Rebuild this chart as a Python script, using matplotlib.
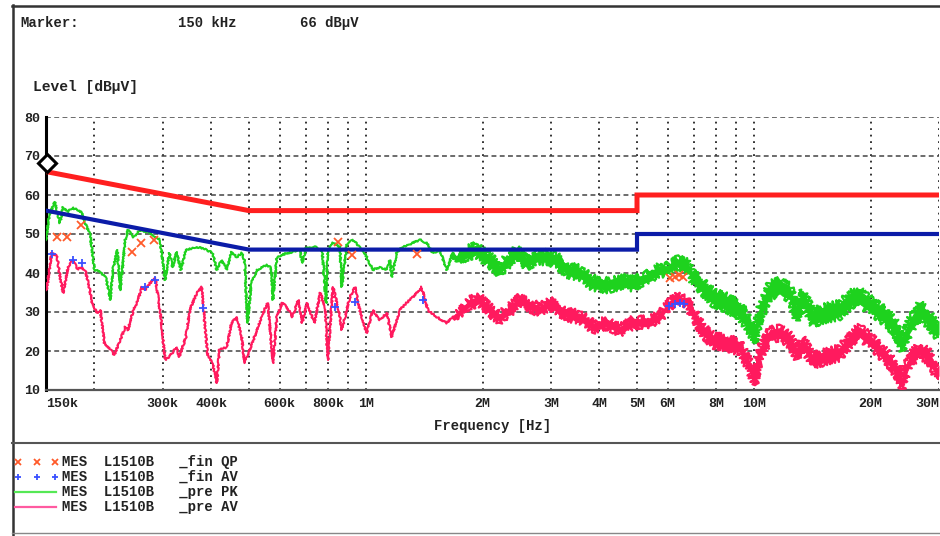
import matplotlib
matplotlib.use("Agg")
import matplotlib.pyplot as plt
import matplotlib.transforms as mtransforms
from matplotlib.lines import Line2D

# frequencies in MHz, levels in dBuV
lim_f = [0.15, 0.5, 5, 5, 30]
qp_lim = [66, 56, 56, 60, 60]
av_lim = [56, 46, 46, 50, 50]

pk_f = [0.150, 0.153, 0.158, 0.163, 0.166, 0.170, 0.175, 0.181, 0.186, 0.189,
        0.195, 0.200, 0.207, 0.214, 0.220, 0.223, 0.229, 0.233, 0.240, 0.244,
        0.252, 0.262, 0.278, 0.295, 0.304, 0.312, 0.318, 0.325, 0.334, 0.344,
        0.367, 0.390, 0.403, 0.413, 0.425, 0.438, 0.451, 0.465, 0.479, 0.487,
        0.496, 0.507, 0.525, 0.556, 0.570, 0.577, 0.590, 0.626, 0.656, 0.676,
        0.686, 0.702, 0.747, 0.773, 0.790, 0.798, 0.823, 0.858, 0.868, 0.893,
        0.926, 0.965, 1.006, 1.042, 1.087, 1.133, 1.153, 1.167, 1.201, 1.243,
        1.322, 1.378, 1.436, 1.488, 1.551, 1.617, 1.676, 1.747,
        1.820, 1.930, 2.001, 2.085, 2.211, 2.303, 2.446, 2.597, 2.758, 2.927,
        3.107, 3.297, 3.565, 3.856, 4.187, 4.526, 4.889, 5.293, 5.727, 5.97,
        6.33, 6.71, 6.96, 7.38, 7.83, 8.51, 9.20, 9.77, 10.06, 10.36,
        10.99, 11.66, 12.37, 12.89, 13.37, 14.18, 15.39, 16.62, 17.95, 18.72,
        20.22, 21.96, 23.30, 24.15, 25.18, 26.72, 28.35, 29.57, 30.0]
pk_lvl = [48.5, 54.9, 58.2, 52.8, 56.9, 55.6, 56.7, 56.2, 55.4, 52.8,
          49.7, 40.8, 40.3, 38.7, 33.1, 40.8, 45.9, 35.6, 48.5, 51.0,
          49.2, 51.0, 50.3, 48.5, 38.2, 45.1, 41.5, 45.4, 40.8, 45.9,
          46.7, 45.9, 45.1, 40.8, 43.3, 40.8, 45.4, 44.1, 45.1, 43.3,
          27.2, 37.4, 40.8, 42.1, 41.3, 33.1, 44.1, 45.1, 45.4, 45.9,
          42.6, 46.4, 46.7, 45.1, 32.3, 45.9, 47.7, 46.7, 36.4, 47.2,
          48.5, 46.7, 44.1, 40.8, 41.5, 40.8, 43.3, 39.0, 45.1, 46.7,
          47.7, 48.5, 47.7, 45.1, 45.9, 40.8, 45.1, 43.3,
          45.1, 45.9, 44.6, 43.3, 40.8, 42.8, 45.1, 42.8, 44.1, 44.1,
          43.3, 40.8, 40.0, 37.4, 36.9, 37.7, 37.4, 38.7, 40.8, 40.8,
          42.6, 42.1, 39.0, 36.4, 33.8, 32.3, 30.5, 26.2, 23.6, 29.7,
          35.6, 36.4, 34.9, 29.7, 33.8, 28.7, 29.7, 30.5, 33.6, 33.8,
          31.3, 28.7, 25.4, 22.0, 26.2, 30.5, 28.0, 25.4, 26.0]
pk_band = [0.0] * 77 + [
    0.6,
    1.3, 1.3, 1.3, 1.3, 1.3, 1.3, 1.3, 1.3, 1.3, 1.3,
    1.3, 1.3, 1.3, 1.3, 1.3, 1.3, 1.3, 1.1, 1.1, 1.1,
    1.1, 1.1, 1.3, 1.5, 1.7, 1.8, 1.8, 1.8, 1.8, 1.8,
    1.8, 1.8, 1.8, 1.8, 1.8, 1.8, 1.8, 1.8, 1.8, 1.8,
    1.8, 1.8, 1.8, 1.8, 1.8, 1.8, 1.8, 1.8, 1.8]

av_f = [0.150, 0.151, 0.155, 0.160, 0.163, 0.166, 0.171, 0.176, 0.181, 0.184,
        0.189, 0.193, 0.198, 0.204, 0.207, 0.212, 0.220, 0.225, 0.233, 0.240,
        0.244, 0.252, 0.259, 0.265, 0.270, 0.278, 0.287, 0.290, 0.297, 0.304,
        0.312, 0.325, 0.331, 0.344, 0.352, 0.367, 0.378, 0.386, 0.392, 0.403,
        0.413, 0.420, 0.438, 0.451, 0.465, 0.479, 0.487, 0.502, 0.525, 0.543,
        0.559, 0.577, 0.590, 0.609, 0.626, 0.647, 0.670, 0.686, 0.706, 0.737,
        0.763, 0.786, 0.798, 0.823, 0.848, 0.868, 0.910, 0.939, 0.965, 1.006,
        1.042, 1.087, 1.133, 1.167, 1.223, 1.273, 1.322, 1.393, 1.445, 1.524,
        1.617, 1.676, 1.747,
        1.852, 1.966, 2.085, 2.211, 2.347, 2.491, 2.643, 2.805, 2.977, 3.158,
        3.352, 3.565, 3.856, 4.187, 4.526, 4.889, 5.293, 5.727, 5.97, 6.33,
        6.71, 6.96, 7.38, 7.83, 8.51, 9.20, 9.77, 10.06, 10.36, 10.99,
        11.66, 12.37, 12.89, 13.37, 14.18, 15.39, 16.62, 17.95, 18.72, 20.22,
        21.96, 23.30, 24.15, 25.18, 26.72, 28.35, 29.57, 30.0]
av_lvl = [35.6, 36.4, 45.1, 44.4, 39.0, 34.9, 41.5, 43.3, 40.8, 41.5,
          40.8, 37.4, 31.3, 29.7, 30.5, 22.1, 20.3, 19.0, 22.8, 26.2,
          25.4, 30.5, 33.1, 36.4, 35.6, 37.4, 38.7, 35.6, 28.0, 17.7,
          18.5, 21.0, 18.5, 23.6, 30.5, 34.9, 36.4, 25.4, 18.5, 16.9,
          11.8, 20.3, 21.0, 27.2, 28.7, 23.6, 16.9, 20.3, 25.4, 29.7,
          32.3, 16.9, 28.7, 32.3, 31.3, 28.7, 33.1, 27.2, 32.3, 27.2,
          34.9, 31.3, 17.7, 36.4, 31.3, 25.4, 33.8, 36.4, 30.5, 24.6,
          30.5, 28.0, 29.7, 23.6, 30.5, 32.3, 33.8, 36.4, 30.5, 28.7,
          27.2, 28.7, 29.7,
          32.3, 33.1, 30.5, 28.5, 30.5, 33.1, 31.8, 30.5, 32.3, 30.5,
          29.2, 28.7, 26.2, 27.2, 25.4, 27.4, 27.2, 28.7, 31.3, 33.6,
          32.6, 29.7, 25.4, 22.8, 22.1, 21.0, 15.9, 12.6, 19.5, 24.1,
          24.6, 22.8, 19.5, 22.1, 17.7, 18.5, 19.5, 23.6, 24.9, 22.1,
          18.5, 15.1, 11.8, 17.7, 20.3, 18.5, 14.4, 15.0]
av_band = [0.0] * 82 + [
    0.5,
    1.0, 1.0, 1.0, 1.0, 1.0, 1.0, 1.0, 1.0, 1.0, 1.0,
    1.0, 1.0, 1.0, 1.0, 1.0, 1.0, 1.0, 0.8, 0.8, 0.8,
    0.8, 1.0, 1.2, 1.4, 1.4, 1.4, 1.4, 1.4, 1.4, 1.4,
    1.4, 1.4, 1.4, 1.4, 1.4, 1.4, 1.4, 1.4, 1.4, 1.4,
    1.4, 1.4, 1.4, 1.4, 1.4, 1.4, 1.4, 1.4]

qp_f = [0.160, 0.170, 0.185, 0.250, 0.264, 0.285, 0.848, 0.922, 1.356,
        6.09, 6.25, 6.40, 6.55]
qp_val = [49.2, 49.2, 52.3, 45.4, 47.7, 48.5, 48.0, 44.6, 45.0,
          38.6, 39.0, 39.4, 39.0]
avm_f = [0.155, 0.176, 0.186, 0.270, 0.287, 0.381, 0.834, 0.939, 1.405,
         6.05, 6.25, 6.45, 6.60]
avm_val = [45.0, 43.3, 42.6, 36.4, 38.2, 31.0, 31.3, 32.6, 33.0,
           31.6, 32.0, 32.3, 32.0]

marker_f = 0.15
marker_lvl = 66

xtick_vals = [0.15, 0.3, 0.4, 0.6, 0.8, 1, 2, 3, 4, 5, 6, 8, 10, 20, 30]
xtick_lbls = ["150k", "300k", "400k", "600k", "800k", "1M", "2M", "3M", "4M",
              "5M", "6M", "8M", "10M", "20M", "30M"]
grid_vals = [0.2, 0.3, 0.4, 0.5, 0.6, 0.7, 0.8, 0.9, 1, 2, 3, 4, 5, 6, 7, 8, 9,
             10, 20, 30]

legend_rows = ["MES  L1510B   _fin QP", "MES  L1510B   _fin AV",
               "MES  L1510B   _pre PK", "MES  L1510B   _pre AV"]

mono = "Liberation Mono"
W, H = 940, 536
fig = plt.figure(figsize=(W / 100, H / 100), dpi=100)
fig.patch.set_facecolor("white")

ax = fig.add_axes([46 / W, 1 - 390 / H, 893 / W, 273 / H])
ax.set_xscale("log")
ax.set_xlim(0.15, 30)
ax.set_ylim(10, 80)

green = "#1ed21e"
pink = "#ff1a5e"


def noisy_trace(f, lvl, spread, color, z):
    # thin line where the sweep is clean, jittered band where it is noisy
    c, = ax.plot(f, lvl, color=color, lw=1.5, zorder=z)
    c.set_sketch_params(scale=0.8, length=2, randomness=4)
    k = next(i for i, b in enumerate(spread) if b > 0)
    hf_f = f[k - 1:]
    lo = [v - b for v, b in zip(lvl[k - 1:], spread[k - 1:])]
    hi = [v + b for v, b in zip(lvl[k - 1:], spread[k - 1:])]
    ax.fill_between(hf_f, lo, hi, color=color, lw=0, zorder=z)
    for edge in (lo, hi):
        e, = ax.plot(hf_f, edge, color=color, lw=1.6, zorder=z)
        e.set_sketch_params(scale=3.5, length=1.5, randomness=4)


noisy_trace(pk_f, pk_lvl, pk_band, green, 3)
noisy_trace(av_f, av_lvl, av_band, pink, 4)

ax.plot(lim_f, qp_lim, color="#ff1f1f", lw=3.6, zorder=5, solid_joinstyle="miter")
ax.plot(lim_f, av_lim, color="#0b1ca8", lw=3.0, zorder=5, solid_joinstyle="miter")

ax.plot(qp_f, qp_val, ls="none", marker="x", ms=5.5, mew=1.3, color="#ff5a2a", zorder=6)
ax.plot(avm_f, avm_val, ls="none", marker="+", ms=5.5, mew=1.3, color="#3a50ff", zorder=6)

off = mtransforms.offset_copy(ax.transData, fig=fig, x=1, y=9, units="dots")
ax.plot([marker_f], [marker_lvl], marker="D", ms=9, mfc="white", mec="black",
        mew=2.2, transform=off, clip_on=False, zorder=8)

# grid
for g in grid_vals:
    ax.axvline(g, color="#222222", lw=1.3, ls=(0, (1, 2.6)), zorder=2)
for lv in range(20, 81, 10):
    ax.axhline(lv, color="#444444", lw=1.1, ls=(0, (3.2, 2.2)), zorder=2)

for s in ["top", "right"]:
    ax.spines[s].set_visible(False)
ax.spines["left"].set_linewidth(2.2)
ax.spines["bottom"].set_linewidth(1.6)
ax.spines["bottom"].set_color("#555555")

ax.set_xticks(xtick_vals)
ax.set_xticklabels(xtick_lbls)
ax.xaxis.set_minor_locator(matplotlib.ticker.NullLocator())
ax.set_yticks(range(10, 81, 10))
ax.tick_params(axis="both", length=0, labelsize=9.5, colors="#222222")
ax.tick_params(axis="x", pad=6)
ax.tick_params(axis="y", pad=4)
for t in ax.get_xticklabels() + ax.get_yticklabels():
    t.set_fontfamily(mono)
    t.set_fontweight("bold")
xl = ax.get_xticklabels()
xl[0].set_horizontalalignment("left")
xl[-1].set_horizontalalignment("right")

ax.set_xlabel("Frequency [Hz]", fontfamily=mono, fontweight="bold",
              fontsize=10, labelpad=6, color="#222222")

# header texts
fig.text(20 / W, 1 - 23 / H, "Marker:", fontfamily=mono, fontweight="bold",
         fontsize=10, va="center", color="#222222")
fig.text(178 / W, 1 - 23 / H, "150 kHz", fontfamily=mono, fontweight="bold",
         fontsize=10, va="center", color="#222222")
fig.text(300 / W, 1 - 23 / H, "66 dB\u00b5V", fontfamily=mono, fontweight="bold",
         fontsize=10, va="center", color="#222222")
fig.text(33 / W, 1 - 87 / H, "Level [dB\u00b5V]", fontfamily=mono, fontweight="bold",
         fontsize=10.5, va="center", color="#222222")

# frame
def hline(y, x0, x1, lw, c):
    fig.add_artist(Line2D([x0 / W, x1 / W], [1 - y / H, 1 - y / H], lw=lw, color=c))

def vline(x, y0, y1, lw, c):
    fig.add_artist(Line2D([x / W, x / W], [1 - y0 / H, 1 - y1 / H], lw=lw, color=c))

hline(5.5, 12, 940, 1.8, "#333333")
vline(12.5, 5, 536, 1.8, "#333333")
hline(443, 12, 940, 1.5, "#555555")
hline(533, 12, 940, 1.0, "#888888")

# legend block
rows_y = [462, 477, 492, 507]
sym_x = [18, 37, 55]
fig.add_artist(Line2D([x / W for x in sym_x], [1 - rows_y[0] / H] * 3, ls="none",
                      marker="x", ms=5, mew=1.3, color="#ff5a2a"))
fig.add_artist(Line2D([x / W for x in sym_x], [1 - rows_y[1] / H] * 3, ls="none",
                      marker="+", ms=5, mew=1.3, color="#3a50ff"))
fig.add_artist(Line2D([15 / W, 56 / W], [1 - rows_y[2] / H] * 2, lw=1.6, color="#55e855"))
fig.add_artist(Line2D([15 / W, 56 / W], [1 - rows_y[3] / H] * 2, lw=1.6, color="#ff5aa0"))
for y, row in zip(rows_y, legend_rows):
    fig.text(62 / W, 1 - y / H, row, fontfamily=mono, fontweight="bold",
             fontsize=10, va="center", color="#222222")

fig.savefig("out.png", dpi=100)
